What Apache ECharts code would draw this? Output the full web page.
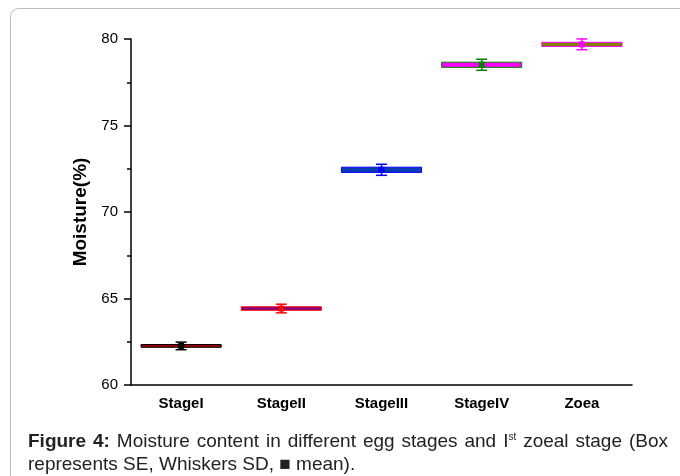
<!DOCTYPE html>
<html>
<head>
<meta charset="utf-8">
<script src="https://cdn.jsdelivr.net/npm/echarts@6/dist/echarts.min.js"></script>
<style>
  html, body { margin: 0; padding: 0; background: #fff; width: 680px; height: 476px; overflow: hidden; }
  #frame { position: absolute; left: 10px; top: 8px; width: 700px; height: 500px; border: 1.5px solid #bdbdbd; border-radius: 9px; box-sizing: border-box; }
  #chart { position: absolute; left: 0; top: 0; width: 680px; height: 476px; }
  .cap { position: absolute; left: 28px; width: 640px; font-family: 'Liberation Sans', sans-serif; font-size: 19px; line-height: 23px; color: #222; white-space: nowrap; }
  #cap1 { top: 429px; text-align: justify; text-align-last: justify; }
  #cap2 { top: 452px; }
  .cap b { font-weight: bold; }
  .cap sup { font-size: 10px; vertical-align: 7px; line-height: 0; }
</style>
</head>
<body>
<div id="frame"></div>
<div id="chart"></div>
<div class="cap" id="cap1" style="white-space: normal;"><b>Figure 4:</b> Moisture content in different egg stages and I<sup>st</sup> zoeal stage (Box</div>
<div class="cap" id="cap2">represents SE, Whiskers SD, &#9632; mean).</div>
<script>
const categories = ['StageI', 'StageII', 'StageIII', 'StageIV', 'Zoea'];
const means = [62.26, 64.42, 72.44, 78.51, 79.69];
const se = [0.08, 0.10, 0.15, 0.15, 0.12];
const sd = [0.22, 0.25, 0.32, 0.32, 0.31];
const yTicks = [60, 65, 70, 75, 80];

const fills = ['#a00000', '#800080', '#0a3cb4', '#ff00ff', '#808000'];
const borders = ['#000000', '#ff0000', '#0000ff', '#008000', '#ff00ff'];

const data = categories.map((c, i) => [i, means[i], se[i], sd[i]]);

const chart = echarts.init(document.getElementById('chart'));
chart.setOption({
  animation: false,
  grid: { left: 131, right: 48, top: 39, bottom: 91 },
  xAxis: {
    type: 'category',
    data: categories,
    boundaryGap: true,
    axisLine: { lineStyle: { color: '#000', width: 1.5 } },
    axisTick: { alignWithLabel: true, length: 6, lineStyle: { color: '#000', width: 1.5 } },
    axisLabel: { color: '#000', fontFamily: 'Liberation Sans', fontWeight: 'bold', fontSize: 15, margin: 11 }
  },
  yAxis: {
    type: 'value',
    min: yTicks[0], max: yTicks[yTicks.length - 1], interval: 5,
    name: 'Moisture(%)',
    nameLocation: 'middle',
    nameGap: 38,
    nameTextStyle: { color: '#000', fontFamily: 'Liberation Sans', fontWeight: 'bold', fontSize: 19 },
    axisLine: { show: true, lineStyle: { color: '#000', width: 1.5 } },
    axisTick: { show: true, length: 7, lineStyle: { color: '#000', width: 1.5 } },
    minorTick: { show: true, splitNumber: 2, length: 4, lineStyle: { color: '#000', width: 1.5 } },
    splitLine: { show: false },
    axisLabel: { color: '#000', fontFamily: 'Liberation Sans', fontSize: 15, margin: 13 }
  },
  series: [{
    type: 'custom',
    data: data,
    encode: { x: 0, y: 1 },
    renderItem: function (params, api) {
      const i = api.value(0);
      const m = api.value(1);
      const s = api.value(2);
      const d = api.value(3);
      const band = api.size([1, 0])[0];
      const boxW = band * 0.8;
      const c = api.coord([i, m]);
      const top = api.coord([i, m + s])[1];
      const bot = api.coord([i, m - s])[1];
      const wTop = api.coord([i, m + d])[1];
      const wBot = api.coord([i, m - d])[1];
      const capW = 11;
      const col = borders[i];
      return {
        type: 'group',
        children: [
          { type: 'line', shape: { x1: c[0], y1: wTop, x2: c[0], y2: wBot }, style: { stroke: col, lineWidth: 1.5 } },
          { type: 'line', shape: { x1: c[0] - capW / 2, y1: wTop, x2: c[0] + capW / 2, y2: wTop }, style: { stroke: col, lineWidth: 1.5 } },
          { type: 'line', shape: { x1: c[0] - capW / 2, y1: wBot, x2: c[0] + capW / 2, y2: wBot }, style: { stroke: col, lineWidth: 1.5 } },
          { type: 'rect', shape: { x: c[0] - boxW / 2, y: top, width: boxW, height: bot - top }, style: { fill: fills[i], stroke: col, lineWidth: 1 } },
          { type: 'rect', shape: { x: c[0] - 3, y: c[1] - 3, width: 6, height: 6 }, style: { fill: col } }
        ]
      };
    }
  }]
});
</script>
</body>
</html>
